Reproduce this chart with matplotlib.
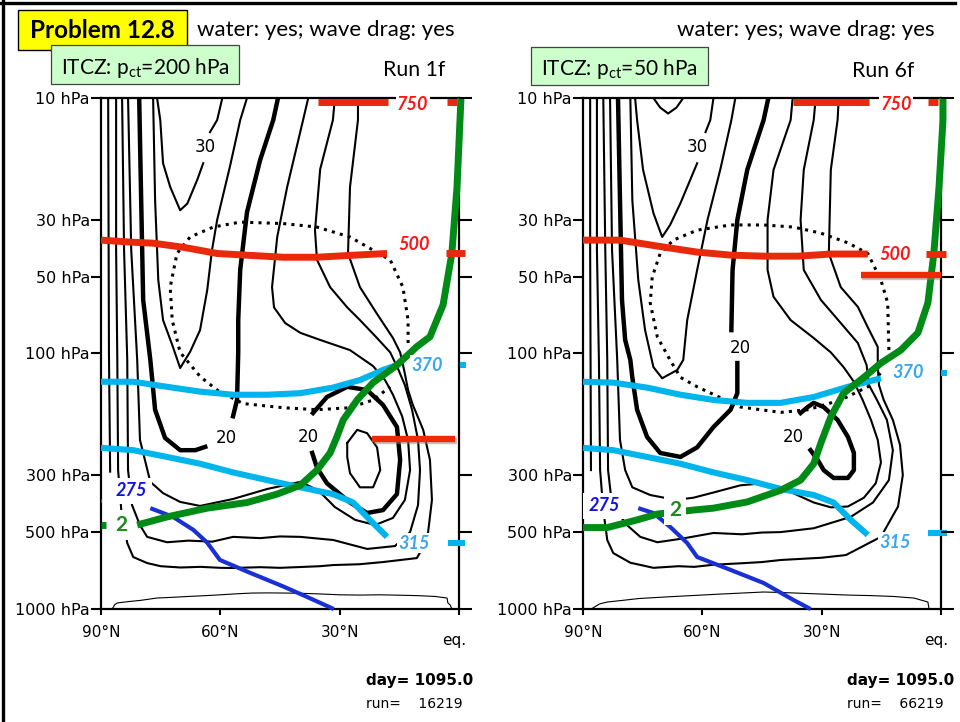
import matplotlib
matplotlib.use("Agg")
import matplotlib.pyplot as plt
import matplotlib.patheffects as pe
from matplotlib.lines import Line2D
from matplotlib.patches import Rectangle
from matplotlib.ticker import NullLocator
from matplotlib.transforms import ScaledTranslation

plt.rcParams.update({
    "font.family": ["DejaVu Sans"],
    "mathtext.fontset": "custom",
    "mathtext.rm": "Lato",
    "mathtext.it": "Lato:italic",
    "mathtext.bf": "Lato:bold",
})

# ---------------- axes ----------------
P_TICKS = [10, 30, 50, 100, 300, 500, 1000]
P_LABELS = ["10 hPa", "30 hPa", "50 hPa", "100 hPa", "300 hPa", "500 hPa", "1000 hPa"]
LAT_TICKS = [90, 60, 30, 0]
LAT_LABELS = ["90°N", "60°N", "30°N", "eq."]

# ---------------- Run 1f : zonal wind contours (lat, hPa) ----------------
r1_k0 = [(88.2, 10), (88.0, 100), (87.7, 290)]
r1_k5 = [(86.2, 10), (86.2, 39.4), (85.9, 106), (85.7, 286), (84.9, 410), (83.4, 552), (81.9, 626),
         (78.4, 661), (75, 680), (70, 688), (65, 684), (60, 690), (56.8, 691), (50, 686), (45, 690),
         (39.9, 685), (35, 680), (31.6, 673), (25, 668), (19.1, 655), (10.6, 632),
         (8.0, 537), (6.8, 374), (7.3, 261), (9.0, 199), (11.6, 159), (12.8, 139), (13.8, 116),
         (14.8, 99), (16.6, 87), (20.6, 70), (24.9, 55), (27.9, 40.6), (27.4, 22.3), (25.4, 12.2),
         (25.4, 10)]
r1_k10 = [(84.7, 10), (84.2, 39.4), (83.4, 106), (83.2, 286), (82.2, 392), (80.2, 470), (78.4, 522),
          (73.4, 548), (68, 540), (62, 545), (56.8, 522), (50, 528), (45, 520), (39.9, 522),
          (31.6, 537), (23.1, 582), (16.1, 567), (12.3, 500),
          (10.3, 392), (9.8, 286), (10.3, 218), (11.8, 166), (13.6, 133), (15.3, 115), (17.3, 99),
          (20.6, 87), (24.9, 74), (28.1, 66), (32.4, 55), (35.7, 43), (36.2, 33), (34.9, 19),
          (31.7, 12.2), (31.2, 10)]
r1_k15 = [(83.2, 10), (82.4, 39.4), (80.9, 106), (80.2, 218), (77.6, 318), (74.4, 352), (70.1, 381),
          (65.1, 395), (56.8, 371), (48.2, 339), (39.9, 318), (35.4, 343), (31.2, 399), (26.1, 448),
          (21.1, 469), (16.6, 440), (13.6, 374), (12.3, 286), (12.8, 218), (14.3, 176), (16.6, 145),
          (18.6, 127), (21.6, 112), (27.4, 97), (34.9, 88.5), (39.9, 83), (43.7, 76), (46.5, 66),
          (47.0, 55), (45.7, 35), (43.2, 22.3), (39.2, 12.2), (37.9, 10)]
r1_u20a = [(80.4, 10), (79.9, 25.1), (79.4, 61.7), (77.6, 106), (76.4, 166), (73.9, 214), (70.1, 239),
           (66.3, 239), (63.8, 232)]
r1_u20b = [(56.8, 176), (55.8, 152), (55.5, 99), (55.5, 74), (55.0, 47), (53.3, 28), (50.0, 17.5),
           (46.7, 12.2), (45.5, 10)]
r1_u30a = [(75.9, 10), (75.1, 12.2), (74.4, 18), (72.6, 22.3), (70.1, 27.5), (68.3, 25.9), (65.8, 20.9),
           (64.3, 18.0)]
r1_u30b = [(62.6, 13.6), (60.8, 12.2), (59.5, 10)]
r1_v25 = [(76.9, 10), (76.4, 25.1), (75.6, 51.6), (74.4, 74), (72.1, 92.5), (70.1, 114), (67.6, 98.5),
          (65.1, 81), (63.3, 56.5), (62.1, 39.4), (60.8, 30), (57.5, 18.3), (55.0, 12.2), (53.3, 10)]
r1_jet20 = [(36.7, 171), (33.2, 148), (28.1, 135), (23.1, 139), (19.1, 159), (15.6, 194), (14.8, 261),
            (15.6, 355), (19.1, 410), (23.1, 421), (27.4, 383), (33.2, 322), (35.7, 280), (36.9, 245)]
r1_jet25 = [(28.1, 224), (25.6, 199), (23.1, 205), (20.6, 233), (19.8, 286), (21.6, 334), (24.9, 334),
            (27.4, 294), (28.1, 254), (28.1, 224)]
r1_labels = [("30", 63.8, 15.5), ("20", 58.5, 214), ("20", 37.9, 212)]
r1_dotted = [(12.8, 91), (12.8, 74), (14.1, 55), (17.3, 43), (21.6, 39.4), (27.4, 35), (35.7, 32),
             (44.2, 31), (55.0, 30.6), (61.8, 32), (67.6, 35), (70.9, 40.6), (72.6, 55), (72.1, 74),
             (70.1, 99), (65.1, 123), (60.8, 139), (54.3, 157), (44.2, 163), (35.7, 166), (27.4, 163),
             (21.6, 152), (17.3, 135)]
r1_surface = [(87.2, 1000), (86.5, 960), (85.9, 947), (83, 935), (80, 925), (76, 906), (72, 900),
              (68, 893), (64, 887), (60, 880), (56, 872), (52, 866), (48, 865), (44, 866), (40, 868),
              (35, 873), (30, 880), (25, 882), (20, 880), (15, 883), (10, 887), (6, 893), (3.0, 906),
              (2.8, 947), (2.2, 965), (1.8, 1000)]

# isentropes (K), tropopause PV=2 and ITCZ cloud top
r1_th750 = [(35.4, 10.4), (17.8, 10.4)]
r1_th500 = [(90, 36), (81.9, 36.7), (76.9, 37), (69.3, 38.4), (60.8, 40.6), (52.5, 41.3), (44.2, 42),
            (35.7, 42), (27.4, 41.3), (18.1, 40.6)]
r1_th370 = [(90, 129), (81.9, 129), (73.4, 135), (65.1, 141), (56.8, 145), (48.2, 145), (39.9, 143),
            (31.7, 136), (24.9, 127), (19.1, 116), (15.6, 111)]
r1_th315 = [(90, 234), (81.9, 239), (73.4, 254), (65.1, 270), (56.8, 292), (48.2, 313), (39.9, 334),
            (31.7, 355), (26.6, 383), (22.4, 448), (18.1, 522)]
r1_th275 = [(77.6, 403), (71.9, 436), (66.8, 490), (63.3, 550), (60.1, 643), (52.5, 722), (44.2, 816),
            (38.2, 897), (31.5, 1000)]
r1_pv2 = [(80.9, 469), (73.4, 436), (63.3, 403), (53.3, 383), (45.7, 355), (39.9, 328), (35.7, 286),
          (32.4, 245), (30.7, 212), (29.1, 182), (25.6, 152), (21.6, 130), (15.6, 111), (10.6, 94),
          (7.3, 86), (4.0, 64.5), (1.8, 40.6), (0.5, 22.3), (-0.25, 12.2), (-0.5, 10)]
r1_pct = [(21.9, 216), (1.0, 216)]
r1_eq_marks = [("red", [(3.0, 10.4), (0.5, 10.4)]), ("red", [(3.3, 40.6), (-1.5, 40.6)]),
               ("cyan", [(-0.25, 111), (-1.75, 111)]), ("cyan", [(2.8, 552), (-1.5, 552)]),
               ("green", [(90, 469), (88.8, 469)]), ("blue", [(90, 377), (89.7, 377)])]
r1_line_labels = [("750", 11.6, 10.65, "red"), ("500", 11.3, 37.6, "red"), ("370", 8.0, 111, "cyan"),
                  ("315", 11.3, 552, "cyan"), ("275", 82.4, 345, "blue"), ("2", 84.9, 469, "green")]

# ---------------- Run 6f ----------------
r6_k0 = [(88.2, 10), (88.2, 39.4), (88.0, 286)]
r6_k5 = [(86.5, 10), (86.5, 39.4), (86.0, 106), (85.7, 286), (84.9, 410), (83.9, 537), (82.4, 604),
         (78.1, 659), (72.3, 690), (66, 680), (62, 684), (57.2, 671), (50, 662), (45, 655),
         (40.3, 643), (30, 630), (23.9, 615), (15.1, 522), (10.8, 397),
         (9.6, 299), (10.3, 228), (12.1, 182), (14.4, 152), (15.6, 133), (15.9, 111), (15.9, 94.3),
         (18.4, 79), (20.9, 65.7), (25.2, 55), (28.2, 40.6), (27.7, 19.1), (26.0, 12.2), (25.7, 10)]
r6_k10 = [(84.9, 10), (84.4, 39.4), (83.9, 106), (83.7, 286), (82.7, 392), (78.9, 470), (75.6, 522),
          (71.3, 548), (65, 530), (57.2, 504), (50, 510), (45, 502), (40.3, 500), (32.0, 483),
          (22.7, 436), (17.1, 383), (13.1, 313),
          (12.1, 239), (13.6, 182), (16.1, 152), (18.1, 133), (18.7, 111), (20.9, 91), (25.2, 76),
          (30.2, 61.7), (34.5, 47.1), (35.3, 30), (34.5, 19.1), (32.0, 12.2), (31.5, 10)]
r6_k15 = [(83.2, 10), (82.7, 39.4), (81.4, 106), (80.7, 218), (79.4, 286), (77.6, 334), (73.1, 358),
          (66.8, 374), (62.3, 367), (57.2, 350), (50.4, 328), (44.6, 322), (40.3, 334), (35.3, 363),
          (32.0, 383), (27.7, 400), (23.4, 397), (19.4, 367), (16.4, 322), (15.1, 267), (15.9, 218),
          (17.6, 182), (19.7, 152), (21.9, 129), (24.5, 113), (27.7, 99), (32.0, 87), (37.8, 74),
          (42.1, 60), (43.6, 47.1), (43.6, 30), (42.1, 19.1), (37.8, 12.2), (37.3, 10)]
r6_u20a = [(81.2, 10), (80.7, 25.1), (80.2, 61.7), (79.4, 88.5), (78.1, 106), (77.6, 124), (76.4, 166),
           (73.9, 212), (70.6, 245), (65.5, 254), (61.3, 233), (57.2, 194), (52.9, 166), (51.2, 143),
           (51.2, 109)]
r6_u20b = [(52.7, 81), (52.4, 47.1), (51.2, 30), (48.7, 19.1), (44.6, 12.2), (43.4, 10)]
r6_u30a = [(76.9, 10), (76.4, 12.2), (74.9, 19.1), (72.3, 28.2), (70.1, 35.0), (68.1, 31.4), (65.5, 25.8),
           (61.3, 18.0)]
r6_u30b = [(59.2, 13.6), (58.0, 12.2), (57.2, 10)]
r6_u35 = [(72.3, 10), (70.6, 10.9), (68.6, 11.5), (66.5, 10.9), (64.8, 10)]
r6_v25 = [(78.1, 10), (77.6, 25.1), (76.1, 51.6), (74.4, 80.9), (72.3, 113), (70.1, 125), (66.3, 116),
          (64.8, 106), (63.8, 74), (61.3, 47.1), (58.7, 30), (55.5, 19.1), (52.7, 12.2), (51.7, 10)]
r6_jet20 = [(35.3, 171), (33.5, 162), (32.0, 156), (29.5, 162), (26.0, 182), (23.4, 212), (21.9, 245),
            (21.9, 286), (23.4, 307), (27.0, 307), (29.5, 286), (31.0, 261), (32.8, 239)]
r6_labels = [("30", 61.3, 15.6), ("20", 50.4, 95.2), ("20", 37.1, 212)]
r6_dotted = [(13.1, 96.9), (13.4, 63.4), (15.1, 51.6), (18.4, 40.6), (23.4, 36.9), (30.2, 33.8),
             (37.1, 32.0), (44.6, 31.4), (52.9, 31.4), (61.3, 32.9), (67.3, 36.0), (70.6, 40.6),
             (72.6, 50.2), (73.1, 63.4), (71.3, 86.2), (68.1, 106), (65.5, 124), (61.3, 135),
             (50.4, 162), (40.3, 170), (33.5, 166), (25.2, 152), (18.4, 135), (15.1, 119)]
r6_surface = [(87.5, 990), (85.8, 955), (83.9, 939), (80, 925), (76, 910), (73.9, 906), (68, 895),
              (62, 885), (56, 875), (50, 866), (44.6, 858), (40, 862), (35, 868), (30, 874),
              (23.4, 882), (18, 886), (12, 893), (6.8, 906), (3.3, 939), (3.0, 1000)]

r6_th750 = [(37.1, 10.4), (18.1, 10.4)]
r6_th500 = [(90, 36.0), (80.7, 36.0), (69.8, 38.3), (61.3, 40.1), (52.9, 41.2), (44.6, 41.6),
            (36.0, 41.6), (27.7, 40.8), (18.4, 40.8)]
r6_th370 = [(90, 129), (82.4, 130), (73.9, 136), (65.5, 145), (57.2, 152), (48.7, 156), (40.3, 156),
            (32.0, 148), (23.4, 135), (15.1, 125)]
r6_th315 = [(90, 234), (82.4, 239), (73.9, 254), (65.5, 270), (57.2, 292), (48.7, 313), (40.3, 339),
            (32.0, 358), (27.0, 383), (22.7, 448), (18.4, 513)]
r6_th275 = [(76.1, 403), (72.3, 421), (68.1, 477), (63.8, 552), (61.3, 626), (52.9, 703), (44.6, 791),
            (37.1, 922), (32.8, 1000)]
r6_pv2 = [(90, 480), (83.9, 480), (76.4, 448), (71.3, 425), (62.3, 410), (57.2, 403), (48.7, 381),
          (40.3, 343), (35.3, 313), (32.0, 270), (30.2, 224), (27.7, 177), (24.5, 143), (19.4, 124),
          (15.1, 109), (10.1, 97), (5.8, 83), (3.3, 63.4), (1.8, 40.6), (0.5, 22.3), (-0.5, 12.2),
          (-0.5, 10)]
r6_pct = [(20.2, 49.3), (-0.8, 49.3)]
r6_eq_marks = [("red", [(3.3, 10.4), (0.8, 10.4)]), ("red", [(3.8, 40.8), (-1.3, 40.8)]),
               ("cyan", [(0.0, 119), (-1.5, 119)]), ("cyan", [(3.3, 504), (-1.5, 504)])]
r6_line_labels = [("750", 11.3, 10.65, "red"), ("500", 11.6, 40.8, "red"), ("370", 8.3, 119, "cyan"),
                  ("315", 11.6, 547, "cyan"), ("275", 84.7, 395, "blue"), ("2", 66.8, 410, "green")]

LINE_COLORS = {"red": "#e8290c", "cyan": "#00b4ec", "blue": "#1b30d2", "green": "#008a16"}
TEXT_COLORS = {"red": "#ff1414", "cyan": "#3aa6f2", "blue": "#1212e6", "green": "#1e8a1e"}

W, H = 960, 722
fig = plt.figure(figsize=(W / 100, H / 100), dpi=100)


def xy(pts):
    return [a for a, _ in pts], [b for _, b in pts]


def draw(ax, pts, **kw):
    x, y = xy(pts)
    ax.plot(x, y, **kw)


def panel(left_px, thin, thick, cl, dotted, surface, colored, pct, marks, line_labels):
    ax = fig.add_axes([left_px / W, 1 - 609 / H, 358 / W, 511 / H])
    ax.set_yscale("log")
    ax.set_xlim(90, 0)
    ax.set_ylim(1000, 10)
    ax.yaxis.set_minor_locator(NullLocator())
    ax.set_yticks(P_TICKS)
    ax.set_yticklabels(P_LABELS)
    ax.set_xticks(LAT_TICKS)
    ax.set_xticklabels(LAT_LABELS)
    ax.set_xticks([90, 0], minor=True)
    ax.tick_params(axis="y", which="major", direction="out", length=7.5, width=1.5,
                   pad=0.5, labelsize=11.5, left=True, right=False)
    ax.tick_params(axis="x", which="major", direction="out", length=4, width=1.5,
                   pad=7.5, labelsize=11)
    ax.tick_params(axis="x", which="minor", direction="out", length=9, width=1.5)
    for s in ax.spines.values():
        s.set_linewidth(1.6)

    tw = ax.twinx()
    tw.set_yscale("log")
    tw.set_ylim(1000, 10)
    tw.yaxis.set_minor_locator(NullLocator())
    tw.set_yticks(P_TICKS)
    tw.set_yticklabels([])
    tw.tick_params(axis="y", which="major", direction="out", length=9.5, width=1.5)
    for s in tw.spines.values():
        s.set_visible(False)

    eq = ax.get_xticklabels()[3]
    eq.set_transform(eq.get_transform() + ScaledTranslation(-0.05, -0.08, fig.dpi_scale_trans))

    for c in thin:
        draw(ax, c, color="k", lw=1.5, zorder=2)
    for c in thick:
        draw(ax, c, color="k", lw=3.2, zorder=2)
    for t, la, p in cl:
        ax.text(la, p, t, fontsize=12, ha="center", va="center", zorder=3,
                bbox=dict(fc="white", ec="none", pad=0.5))
    draw(ax, dotted, color="k", lw=2.2, ls=(0, (1.0, 1.7)), zorder=2)
    draw(ax, surface, color="k", lw=0.8, zorder=2)

    widths = {"red": 5.0, "cyan": 4.4, "blue": 3.0, "green": 5.0}
    for name, pts in colored:
        draw(ax, pts, color=LINE_COLORS[name], lw=widths[name], zorder=4,
             solid_capstyle="butt", clip_on=False)
    draw(ax, pct, color="#f02a08", lw=4.6, zorder=4, solid_capstyle="butt",
         path_effects=[pe.SimpleLineShadow(offset=(1.2, -1.5), shadow_color="#888888", alpha=0.5),
                       pe.Normal()])
    for name, pts in marks:
        draw(ax, pts, color=LINE_COLORS[name], lw=widths[name], zorder=4,
             solid_capstyle="butt", clip_on=False)
    for t, la, p, name in line_labels:
        upright = (name == "green")
        big_box = name in ("green", "blue")
        ax.text(la, p, t, fontsize=15 if upright else 13, ha="center", va="center",
                color=TEXT_COLORS[name], family="Lato", weight="bold",
                style="normal" if upright else "italic", zorder=6, clip_on=False,
                bbox=dict(fc="white", ec="none", pad=3.5 if big_box else 1.0))
    return ax


panel(101, [r1_k0, r1_k5, r1_k10, r1_k15, r1_u30a, r1_u30b, r1_v25, r1_jet25],
      [r1_u20a, r1_u20b, r1_jet20], r1_labels, r1_dotted, r1_surface,
      [("red", r1_th750), ("red", r1_th500), ("cyan", r1_th370), ("cyan", r1_th315),
       ("blue", r1_th275), ("green", r1_pv2)], r1_pct, r1_eq_marks, r1_line_labels)

panel(583, [r6_k0, r6_k5, r6_k10, r6_k15, r6_u30a, r6_u30b, r6_u35, r6_v25],
      [r6_u20a, r6_u20b, r6_jet20], r6_labels, r6_dotted, r6_surface,
      [("red", r6_th750), ("red", r6_th500), ("cyan", r6_th370), ("cyan", r6_th315),
       ("blue", r6_th275), ("green", r6_pv2)], r6_pct, r6_eq_marks, r6_line_labels)

# ---------------- headings ----------------
fig.add_artist(Line2D([0, 955 / W], [1 - 3 / H] * 2, color="k", lw=2.4))
fig.add_artist(Line2D([2.5 / W] * 2, [0, 1], color="k", lw=2.4))

fig.add_artist(Rectangle((18 / W, 1 - 50 / H), 169 / W, 40 / H, fc="#ffff00", ec="k", lw=1.0))
fig.text(102 / W, 1 - 31 / H, "Problem 12.8", ha="center", va="center", family="Lato",
         weight="bold", fontsize=17.5)
fig.add_artist(Rectangle((51 / W, 1 - 84 / H), 188 / W, 39 / H, fc="#ccffcc", ec="#444444", lw=0.9))
fig.add_artist(Rectangle((531 / W, 1 - 85 / H), 177 / W, 38 / H, fc="#ccffcc", ec="#444444", lw=0.9))

for x0 in (197, 677):
    fig.text(x0 / W, 1 - 36 / H, "water: yes; wave drag: yes", ha="left", va="baseline",
             family="Lato", fontsize=16)
fig.text(61 / W, 1 - 74 / H, r"ITCZ: p$_{\mathrm{ct}}$=200 hPa", ha="left", va="baseline",
         family="Lato", fontsize=15)
fig.text(541 / W, 1 - 75 / H, r"ITCZ: p$_{\mathrm{ct}}$=50 hPa", ha="left", va="baseline",
         family="Lato", fontsize=15)

fig.text(383 / W, 1 - 76 / H, "Run 1f", ha="left", va="baseline", family="Lato", fontsize=15.3)
fig.text(852 / W, 1 - 77 / H, "Run 6f", ha="left", va="baseline", family="Lato", fontsize=15.3)

for x0, run_no in [(366, "16219"), (847, "66219")]:
    fig.text(x0 / W, 1 - 685 / H, "day= 1095.0", ha="left", va="baseline", weight="bold",
             fontsize=11)
    fig.text(x0 / W, 1 - 708 / H, "run=    " + run_no, ha="left", va="baseline", fontsize=10)

fig.savefig("out.png", dpi=100)
